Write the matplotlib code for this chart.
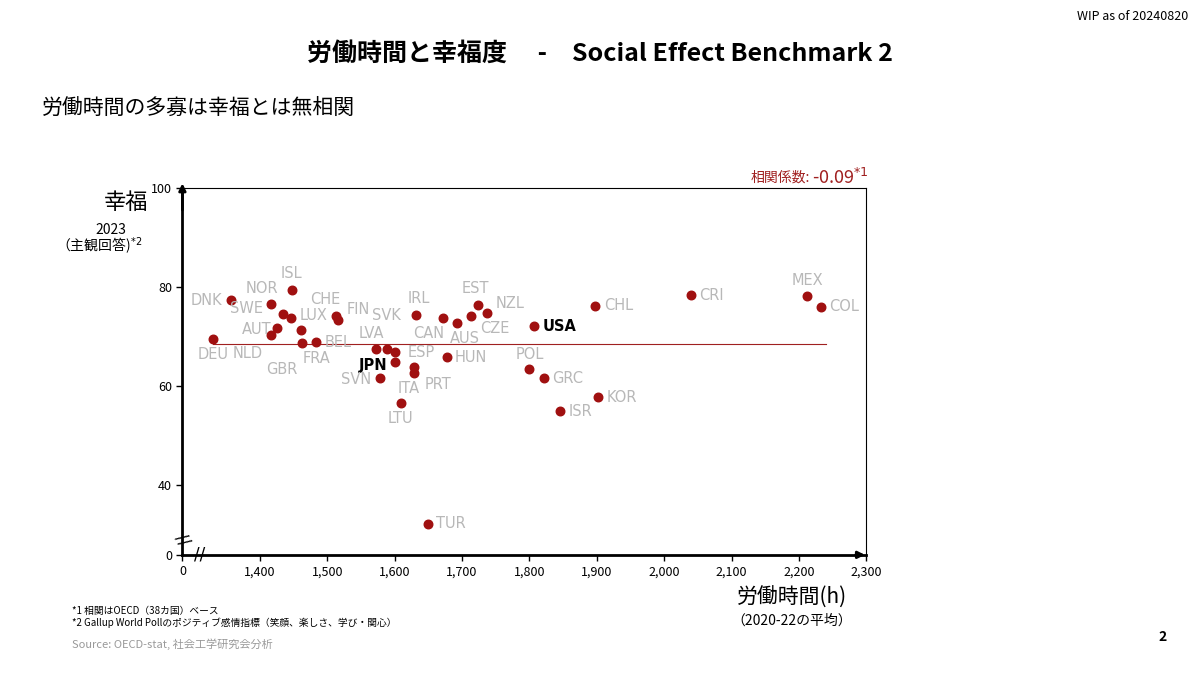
import matplotlib.pyplot as plt
import numpy as np

plt.rcParams['font.family'] = ['Noto Sans CJK JP', 'DejaVu Sans']

countries = ["DEU", "DNK", "NOR", "ISL", "SWE", "LUX", "AUT", "NLD", "GBR", "FRA", "BEL",
             "CHE", "FIN", "LVA", "SVK", "ITA", "JPN", "SVN", "ESP", "PRT", "LTU", "IRL",
             "CAN", "AUS", "HUN", "EST", "NZL", "CZE", "USA", "POL", "GRC", "ISR", "CHL",
             "KOR", "CRI", "MEX", "COL", "TUR"]
hours = [1330, 1357, 1416, 1447, 1434, 1446, 1425, 1416, 1461, 1463, 1483,
         1513, 1516, 1573, 1588, 1600, 1601, 1578, 1628, 1628, 1609, 1631,
         1671, 1692, 1677, 1724, 1737, 1714, 1807, 1800, 1821, 1846, 1898,
         1902, 2040, 2212, 2233, 1649]
happy = [69.5, 77.4, 76.6, 79.4, 74.5, 73.7, 71.7, 70.3, 71.3, 68.7, 68.9,
         74.1, 73.3, 67.5, 67.5, 66.9, 64.8, 61.6, 63.8, 62.6, 56.6, 74.3,
         73.7, 72.7, 65.9, 76.4, 74.7, 74.1, 72.1, 63.4, 61.6, 55.0, 76.2,
         57.8, 78.4, 78.2, 76.0, 32.3]

# label offsets in points (dx, dy, ha)
offs = {
    "DEU": (0, -11, "center"), "DNK": (-6, 0, "right"), "NOR": (-6, 11, "center"),
    "ISL": (0, 12, "center"), "SWE": (-14, 4, "right"), "LUX": (6, 2, "left"),
    "AUT": (-4, -1, "right"), "NLD": (-6, -13, "right"), "GBR": (-14, -28, "center"),
    "FRA": (0, -11, "left"), "BEL": (6, 0, "left"), "CHE": (-8, 12, "center"),
    "FIN": (6, 8, "left"), "LVA": (-4, 11, "center"), "SVK": (0, 24, "center"),
    "ITA": (10, -26, "center"), "JPN": (-6, -2, "right"), "SVN": (-6, -1, "right"),
    "ESP": (-4, 11, "left"), "PRT": (8, -8, "left"), "LTU": (0, -11, "center"),
    "IRL": (2, 12, "center"), "CAN": (-10, -11, "center"), "AUS": (6, -11, "center"),
    "HUN": (6, 0, "left"), "EST": (-2, 12, "center"), "NZL": (6, 7, "left"),
    "CZE": (6, -9, "left"), "USA": (6, 0, "left"), "POL": (0, 11, "center"),
    "GRC": (6, 0, "left"), "ISR": (6, 0, "left"), "CHL": (6, 0, "left"),
    "KOR": (6, 0, "left"), "CRI": (6, 0, "left"), "MEX": (0, 11, "center"),
    "COL": (6, 0, "left"), "TUR": (6, 0, "left"),
}

fig = plt.figure(figsize=(12, 6.75), dpi=100)
ax = fig.add_axes([0.152, 0.178, 0.570, 0.5435])
ax.set_xlim(1285, 2300)
ax.set_ylim(26, 100)

ax.plot([1330, 2240], [68.5, 68.5], color="#a02020", lw=0.8, zorder=1)
ax.scatter(hours, happy, s=38, color="#a01010", zorder=3)
for c, x, y in zip(countries, hours, happy):
    dx, dy, ha = offs[c]
    bold = c in ("JPN", "USA")
    ax.annotate(c, (x, y), xytext=(dx, dy), textcoords="offset points", ha=ha, va="center",
                fontsize=10.5, color="black" if bold else "#b8b8b8",
                fontweight="bold" if bold else "normal", family="DejaVu Sans")

xt = [1285, 1400, 1500, 1600, 1700, 1800, 1900, 2000, 2100, 2200, 2300]
ax.set_xticks(xt)
ax.set_xticklabels(["0"] + [f"{v:,}" for v in xt[1:]], fontsize=9)
yt = [26, 40, 60, 80, 100]
ax.set_yticks(yt)
ax.set_yticklabels(["0", "40", "60", "80", "100"], fontsize=9)
ax.tick_params(length=4, width=1)
for s in ("left", "bottom"):
    ax.spines[s].set_linewidth(2)
for s in ("top", "right"):
    ax.spines[s].set_linewidth(0.8)
# arrows
ax.annotate("", xy=(1285, 101.5), xytext=(1285, 95), xycoords="data",
            arrowprops=dict(arrowstyle="-|>", color="black", lw=2), annotation_clip=False)
ax.annotate("", xy=(2302, 26), xytext=(2280, 26),
            arrowprops=dict(arrowstyle="-|>", color="black", lw=2), annotation_clip=False)
# break marks
ax.text(1285, 29, "//", rotation=-60, ha="center", va="center", fontsize=12,
        family="DejaVu Sans", clip_on=False)
ax.text(1310, 26, "//", ha="center", va="center", fontsize=12, family="DejaVu Sans", clip_on=False)

fig.text(0.99, 0.975, "WIP as of 20240820", ha="right", va="center", fontsize=9, style="italic")
fig.text(0.5, 0.92, "労働時間と幸福度　 -　Social Effect Benchmark 2", ha="center", va="center",
         fontsize=18, fontweight="bold")
fig.text(0.035, 0.84, "労働時間の多寡は幸福とは無相関", ha="left", va="center", fontsize=15)
fig.text(0.105, 0.7, "幸福", ha="center", va="center", fontsize=16)
fig.text(0.105, 0.66, "2023", ha="right", va="center", fontsize=10)
fig.text(0.047, 0.636, "（主観回答)$^{*2}$", ha="left", va="center", fontsize=10)
fig.text(0.675, 0.737, "相関係数:", ha="right", va="center", fontsize=10, color="#a02020")
fig.text(0.677, 0.737, "-0.09$^{*1}$", ha="left", va="center", fontsize=13, color="#a02020")
fig.text(0.66, 0.115, "労働時間(h)", ha="center", va="center", fontsize=15)
fig.text(0.66, 0.08, "（2020-22の平均）", ha="center", va="center", fontsize=10)
fig.text(0.06, 0.09, "*1 相関はOECD（38カ国）ベース", fontsize=7)
fig.text(0.06, 0.072, "*2 Gallup World Pollのポジティブ感情指標（笑顔、楽しさ、学び・関心）", fontsize=7)
fig.text(0.06, 0.04, "Source: OECD-stat, 社会工学研究会分析", fontsize=8, color="#999999")
fig.text(0.965, 0.05, "2", fontsize=10, fontweight="bold")

fig.savefig("out.png", dpi=100)
